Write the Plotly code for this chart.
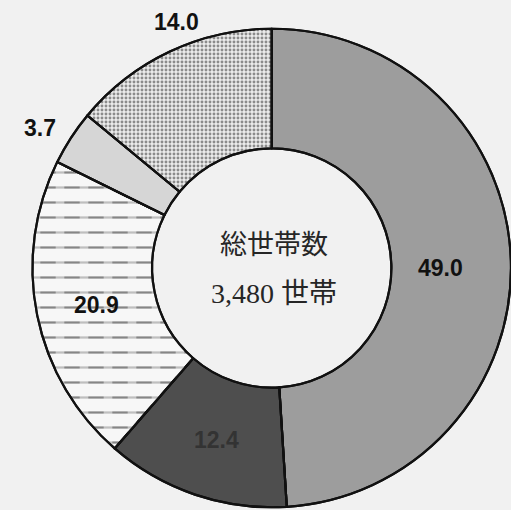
import plotly.graph_objects as go

# Household composition (%) — slices clockwise from 12 o'clock
categories = ["A", "B", "C", "D", "E"]
shares = [49.0, 12.4, 20.9, 3.7, 14.0]
total_label = "総世帯数"
total_value = "3,480 世帯"

W, H = 511, 510
BG = "#f1f1f1"

fills = ["#9d9d9d", "#4e4e4e", "#f7f7f7", "#d6d6d6", "#ececec"]
shapes = ["", "", "-", "", "."]
fgs = ["#000000", "#000000", "#151515", "#000000", "#2a2a2a"]
sizes = [8, 8, 15, 8, 4]
solids = [0.3, 0.3, 0.15, 0.3, 0.42]

dom_x = [32.5 / W, 1.0]
dom_y = [1 - 508 / H, 1 - 28 / H]

fig = go.Figure()

# base donut with fills and patterns
fig.add_trace(go.Pie(
    labels=categories, values=shares, sort=False, direction="clockwise",
    hole=0.5, textinfo="none", hoverinfo="skip", showlegend=False,
    domain=dict(x=dom_x, y=dom_y),
    marker=dict(
        colors=fills,
        line=dict(color="#111111", width=2.2),
        pattern=dict(shape=shapes, fgcolor=fgs, bgcolor=fills,
                     size=sizes, solidity=solids, fillmode="overlay"),
    ),
))

# second pass breaks the horizontal rules of slice C into dashes
fig.add_trace(go.Pie(
    labels=categories, values=shares, sort=False, direction="clockwise",
    hole=0.5, textinfo="none", hoverinfo="skip", showlegend=False,
    domain=dict(x=dom_x, y=dom_y),
    marker=dict(
        colors=["rgba(0,0,0,0)"] * 5,
        line=dict(color="#111111", width=2.2),
        pattern=dict(shape=["", "", "|", "", ""],
                     fgcolor=["#f7f7f7"] * 5,
                     bgcolor=["rgba(0,0,0,0)"] * 5,
                     size=24, solidity=0.36, fillmode="overlay"),
    ),
))

# value labels (pixel positions)
label_px = [(440, 268), (216, 440), (96, 305), (40, 128), (176, 22)]
label_col = ["#111111", "#333333", "#111111", "#111111", "#111111"]
annotations = []
for v, (px, py), c in zip(shares, label_px, label_col):
    annotations.append(dict(
        x=px / W, y=1 - py / H, xref="paper", yref="paper",
        text=f"{v:.1f}", showarrow=False,
        font=dict(family="Liberation Sans, Arial", size=23, color=c, weight="bold"),
        xanchor="center", yanchor="middle",
    ))

# centre caption
annotations.append(dict(
    x=274 / W, y=1 - 245 / H, xref="paper", yref="paper",
    text=total_label, showarrow=False,
    font=dict(family="Liberation Serif, Noto Sans CJK JP", size=27, color="#262626"),
    xanchor="center", yanchor="middle",
))
annotations.append(dict(
    x=274 / W, y=1 - 293 / H, xref="paper", yref="paper",
    text=total_value, showarrow=False,
    font=dict(family="Liberation Serif, Noto Sans CJK JP", size=28, color="#262626"),
    xanchor="center", yanchor="middle",
))

fig.update_layout(
    width=W, height=H,
    margin=dict(l=0, r=0, t=0, b=0),
    paper_bgcolor=BG, plot_bgcolor=BG,
    annotations=annotations,
)

fig.write_html("out.html")
